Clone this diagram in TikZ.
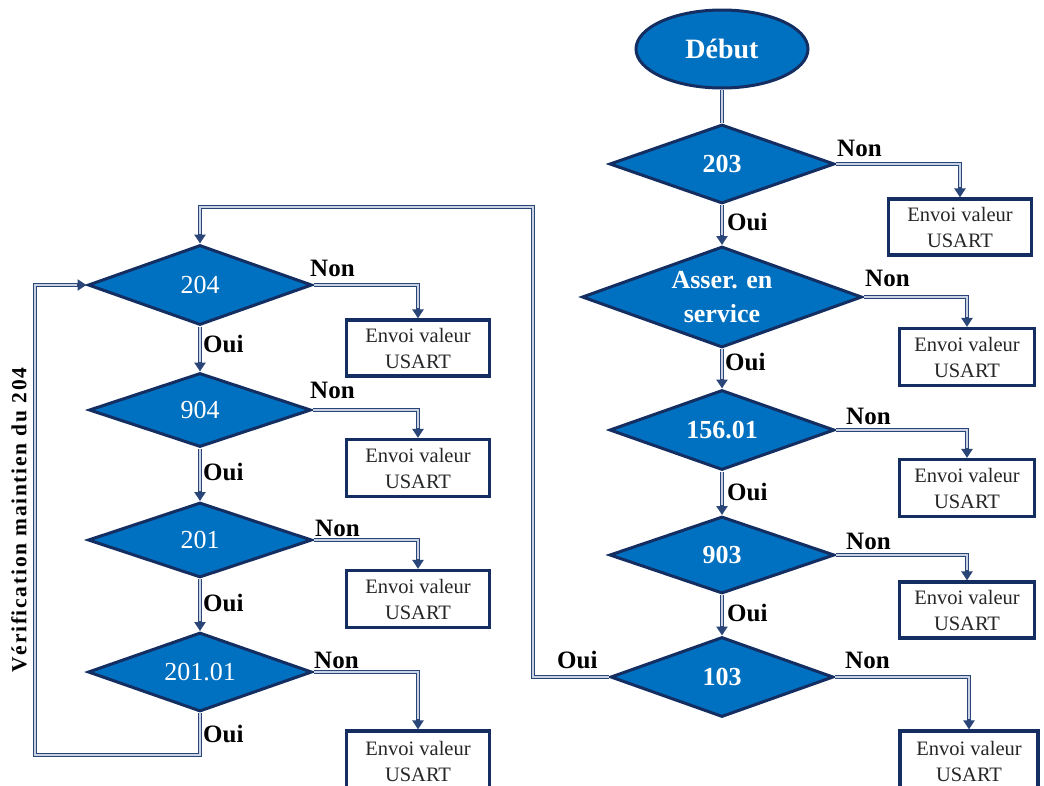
\documentclass[tikz,border=0pt]{standalone}
\usepackage{fontspec}
\setmainfont{Liberation Serif}
\newfontfamily\sidefont[LetterSpace=8]{Liberation Serif}
\usetikzlibrary{shapes.geometric,arrows.meta}
\definecolor{flowblue}{HTML}{0070C0}
\definecolor{navy}{HTML}{142E62}
\definecolor{linkout}{HTML}{2A4577}
\definecolor{linkin}{HTML}{C9D2E2}
\begin{document}
\begin{tikzpicture}[x=1pt,y=-1pt,
  test/.style={diamond, draw=navy, line width=3pt, fill=flowblue, text=white,
    inner sep=0pt, shape aspect=2.8, align=center,
    font=\fontsize{26}{34}\selectfont\bfseries},
  testlight/.style={test, font=\fontsize{26}{34}\selectfont},
  startnode/.style={ellipse, draw=navy, line width=3pt, fill=flowblue, text=white,
    inner sep=0pt, minimum width=172pt, minimum height=78pt,
    font=\fontsize{28}{30}\selectfont\bfseries},
  outbox/.style={rectangle, draw=navy, line width=3.2pt, fill=white, text=black!85,
    align=center, inner sep=0pt, font=\fontsize{20.5}{26}\selectfont},
  lbl/.style={anchor=base west, inner sep=0pt, font=\fontsize{25}{28}\selectfont\bfseries},
  flow/.style={draw=linkout, line width=4.4pt, -{Triangle[length=9pt,width=11pt]},
    postaction={draw=linkin, line width=1.6pt, shorten >=10pt, -}},
  link/.style={draw=linkout, line width=4.4pt, postaction={draw=linkin, line width=1.6pt}}
]
\useasboundingbox (0,0) rectangle (1044,785);
\clip (0,0) rectangle (1044,785);

% main column
\node[startnode] (debut) at (722,49) {Début};
\node[test, minimum width=225pt, minimum height=79pt] (d203) at (722,164) {203};
\node[test, minimum width=280pt, minimum height=101pt] (dass) at (722,297) {Asser. en\\service};
\node[test, minimum width=225pt, minimum height=80pt] (d156) at (722,430) {156.01};
\node[test, minimum width=225pt, minimum height=77pt] (d903) at (722,555) {903};
\node[test, minimum width=223pt, minimum height=80pt] (d103) at (722,677) {103};

\node[outbox, minimum width=143pt, minimum height=56pt] (b203) at (960,227) {Envoi valeur\\USART};
\node[outbox, minimum width=135pt, minimum height=57pt] (bass) at (967,357) {Envoi valeur\\USART};
\node[outbox, minimum width=135pt, minimum height=57pt] (b156) at (967,488) {Envoi valeur\\USART};
\node[outbox, minimum width=135pt, minimum height=56pt] (b903) at (967,610) {Envoi valeur\\USART};
\node[outbox, minimum width=138pt, minimum height=60pt] (b103) at (969,761) {Envoi valeur\\USART};

% maintenance loop column
\node[testlight, minimum width=224pt, minimum height=80pt] (d204) at (200,285) {204};
\node[testlight, minimum width=222pt, minimum height=74pt] (d904) at (200,410) {904};
\node[testlight, minimum width=224pt, minimum height=75pt] (d201) at (200,540) {201};
\node[testlight, minimum width=224pt, minimum height=79pt] (d20101) at (200,672) {201.01};

\node[outbox, minimum width=143pt, minimum height=56pt] (b204) at (418,348) {Envoi valeur\\USART};
\node[outbox, minimum width=143pt, minimum height=57pt] (b904) at (418,468) {Envoi valeur\\USART};
\node[outbox, minimum width=143pt, minimum height=57pt] (b201) at (418,599) {Envoi valeur\\USART};
\node[outbox, minimum width=143pt, minimum height=60pt] (b20101) at (418,761) {Envoi valeur\\USART};

\node[rotate=90, inner sep=0pt, font=\fontsize{21.5}{24}\sidefont\bfseries] (vlabel) at (19,520)
  {Vérification maintien du 204};

% routing points
\coordinate (r1) at (533,207);
\coordinate (l1) at (35,755);

% connectors, main column
\draw[link] (debut.south) -- (d203.north);
\draw[flow] (d203.south) -- (dass.north);
\draw[flow] (dass.south) -- (d156.north);
\draw[flow] (d156.south) -- (d903.north);
\draw[flow] (d903.south) -- (d103.north);
\draw[flow] (d203.east) -| (b203.north);
\draw[flow] (dass.east) -| (bass.north);
\draw[flow] (d156.east) -| (b156.north);
\draw[flow] (d903.east) -| (b903.north);
\draw[flow] (d103.east) -| (b103.north);
\draw[flow] (d103.west) -| (r1) -| (d204.north);

% connectors, loop column
\draw[flow] (d204.south) -- (d904.north);
\draw[flow] (d904.south) -- (d201.north);
\draw[flow] (d201.south) -- (d20101.north);
\draw[flow] (d204.east) -| (b204.north);
\draw[flow] (d904.east) -| (b904.north);
\draw[flow] (d201.east) -| (b201.north);
\draw[flow] (d20101.east) -| (b20101.north);
\draw[flow] (d20101.south) |- (l1) |- (d204.west);

% branch labels
\node[lbl] (n203) at (837,156) {Non};
\node[lbl] (nass) at (865,286) {Non};
\node[lbl] (n156) at (846,424) {Non};
\node[lbl] (n903) at (846,549) {Non};
\node[lbl] (n103) at (845,668) {Non};
\node[lbl] (n204) at (310,276) {Non};
\node[lbl] (n904) at (310,398) {Non};
\node[lbl] (n201) at (315,536) {Non};
\node[lbl] (n20101) at (314,668) {Non};

\node[lbl] (o203) at (727,230) {Oui};
\node[lbl] (oass) at (725,370) {Oui};
\node[lbl] (o156) at (727,500) {Oui};
\node[lbl] (o903) at (727,621) {Oui};
\node[lbl] (o103) at (557,668) {Oui};
\node[lbl] (o204) at (203,352) {Oui};
\node[lbl] (o904) at (203,480) {Oui};
\node[lbl] (o201) at (203,611) {Oui};
\node[lbl] (o20101) at (203,742) {Oui};
\end{tikzpicture}
\end{document}
